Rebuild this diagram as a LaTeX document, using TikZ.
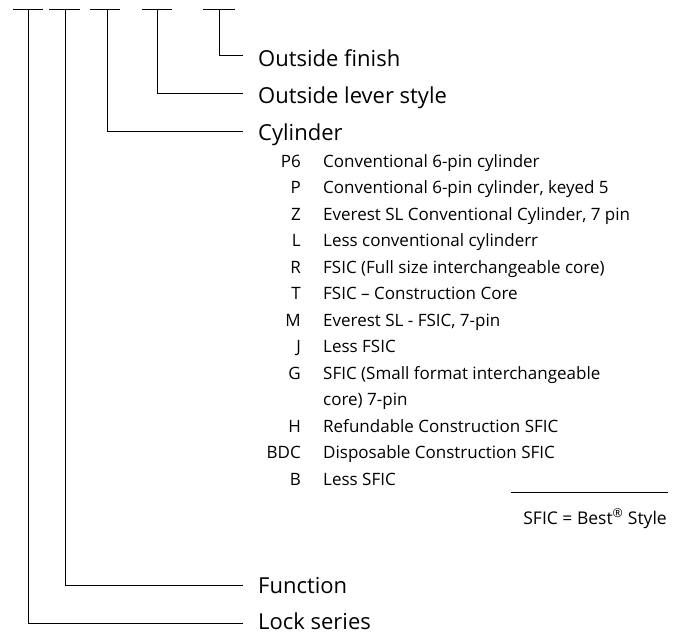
\documentclass[tikz,border=0pt]{standalone}
\usepackage{fontspec}
\setmainfont{Open Sans}
\begin{document}
\begin{tikzpicture}[x=1pt,y=-1pt,
  ln/.style={line width=0.9pt},
  lab/.style={anchor=base west,font=\fontsize{22}{26}\selectfont,inner sep=0pt},
  code/.style={anchor=base east,font=\fontsize{17}{21}\selectfont,inner sep=0pt},
  desc/.style={anchor=base west,font=\fontsize{17}{21}\selectfont,inner sep=0pt}]
\useasboundingbox (0,0) rectangle (683,633);
% top bars
\foreach \n/\a/\b/\c in {a/13/43/28,b/49/80/65,c/90/120/107,d/142/172/157,e/203/235/219}{
  \coordinate (\n L) at (\a,9);
  \coordinate (\n R) at (\b,9);
  \coordinate (\n T) at (\c,9);
  \draw[ln] (\n L) -- (\n R);
}
% labels
\node[lab] (fin) at (258,66) {Outside finish};
\node[lab] (lev) at (258,103) {Outside lever style};
\node[lab] (cyl) at (258,140) {Cylinder};
\node[lab] (fun) at (258,593) {Function};
\node[lab] (ser) at (258,629) {Lock series};
\coordinate (finE) at (243,55);
\coordinate (levE) at (243,93);
\coordinate (cylE) at (243,131);
\coordinate (funE) at (243,585);
\coordinate (serE) at (243,623);
\draw[ln] (eT) |- (finE);
\draw[ln] (dT) |- (levE);
\draw[ln] (cT) |- (cylE);
\draw[ln] (bT) |- (funE);
\draw[ln] (aT) |- (serE);
% items
\foreach \i/\c/\d in {
 0/P6/Conventional 6-pin cylinder,
 1/P/{Conventional 6-pin cylinder, keyed 5},
 2/Z/{Everest SL Conventional Cylinder, 7 pin},
 3/L/Less conventional cylinderr,
 4/R/FSIC (Full size interchangeable core),
 5/T/FSIC – Construction Core,
 6/M/{Everest SL - FSIC, 7-pin},
 7/J/Less FSIC,
 8/G/SFIC (Small format interchangeable}{
  \node[code] (c\i) at (301,{167+26.5*\i}) {\c};
  \node[desc] (d\i) at (323,{167+26.5*\i}) {\d};
}
\node[desc] (d8b) at (323,{167+26.5*9}) {core) 7-pin};
\foreach \i/\c/\d in {10/H/Refundable Construction SFIC, 11/BDC/Disposable Construction SFIC, 12/B/Less SFIC}{
  \node[code] (c\i) at (301,{167+26.5*\i}) {\c};
  \node[desc] (d\i) at (323,{167+26.5*\i}) {\d};
}
\coordinate (nL) at (511,492);
\coordinate (nR) at (668,492);
\draw[line width=0.7pt] (nL) -- (nR);
\node[code,font=\fontsize{17.5}{21}\selectfont] (note) at (667,524) {SFIC = Best\textsuperscript{®} Style};
\end{tikzpicture}
\end{document}
